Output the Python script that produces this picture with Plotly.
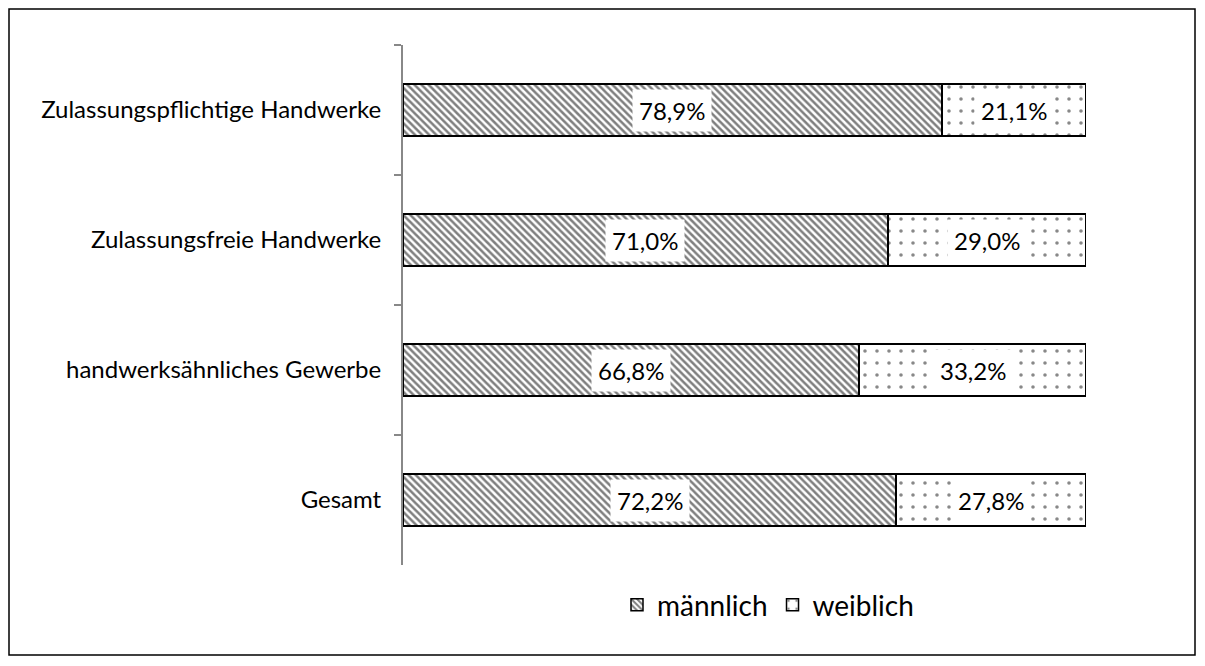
import plotly.graph_objects as go

categories = ["Zulassungspflichtige Handwerke", "Zulassungsfreie Handwerke",
              "handwerksähnliches Gewerbe", "Gesamt"]
maennlich = [78.9, 71.0, 66.8, 72.2]
weiblich = [21.1, 29.0, 33.2, 27.8]
series_names = ["männlich", "weiblich"]

# page is offset by the default 8px body margin
OFF = 8
W, H = 1205 - 2 * OFF, 666 - 2 * OFF
ml = 403 - OFF
mr = W - (1086 - OFF)
mt = 45 - OFF
mb = H - (565 - OFF)

def fmt(v):
    return f"{v:.1f}".replace(".", ",") + "%"

FONT = "Lato"

fig = go.Figure()
fig.add_trace(go.Bar(
    y=categories, x=maennlich, orientation="h", name=series_names[0],
    marker=dict(color="white", line=dict(color="black", width=1.5),
                pattern=dict(shape="\\", fgcolor="black", bgcolor="white", size=5, solidity=0.5)),
    hoverinfo="skip"))
fig.add_trace(go.Bar(
    y=categories, x=weiblich, orientation="h", name=series_names[1],
    marker=dict(color="white", line=dict(color="black", width=1.5),
                pattern=dict(shape=".", fgcolor="#111111", bgcolor="white", size=12, solidity=0.07)),
    hoverinfo="skip"))

annotations = []
for c, m, w in zip(categories, maennlich, weiblich):
    for xc, v in ((m / 2, m), (m + w / 2, w)):
        annotations.append(dict(x=xc, y=c, xref="x", yref="y", text=fmt(v), showarrow=False,
                                bgcolor="white", font=dict(size=24, color="black", family=FONT),
                                borderpad=6))

pw = W - ml - mr
ph = H - mt - mb
def px_x(v):
    return (v - OFF - ml) / pw
def px_y(v):
    return (H - mb - (v - OFF)) / ph

fig.update_layout(
    width=W, height=H,
    margin=dict(l=ml, r=mr, t=mt, b=mb),
    paper_bgcolor="white", plot_bgcolor="white",
    barmode="stack", bargap=0.6,
    font=dict(family=FONT, size=24, color="black"),
    showlegend=True,
    legend=dict(orientation="h", x=px_x(768), xanchor="center", y=px_y(605), yanchor="middle",
                font=dict(size=28, family=FONT), itemwidth=30, traceorder="normal"),
    annotations=annotations,
    shapes=[dict(type="rect", xref="paper", yref="paper",
                 x0=px_x(9), x1=px_x(1195), y0=px_y(655), y1=px_y(9),
                 line=dict(color="black", width=1.5), layer="below")],
    xaxis=dict(range=[0, 100], visible=False, showgrid=False, zeroline=False),
    yaxis=dict(autorange="reversed", showline=True, linecolor="#888888", linewidth=2,
               ticks="outside", tickson="boundaries", ticklen=7, tickcolor="#888888", tickwidth=2,
               showgrid=False, ticklabelstandoff=15, tickfont=dict(size=24, family=FONT)),
)

fig.write_html("out.html")
